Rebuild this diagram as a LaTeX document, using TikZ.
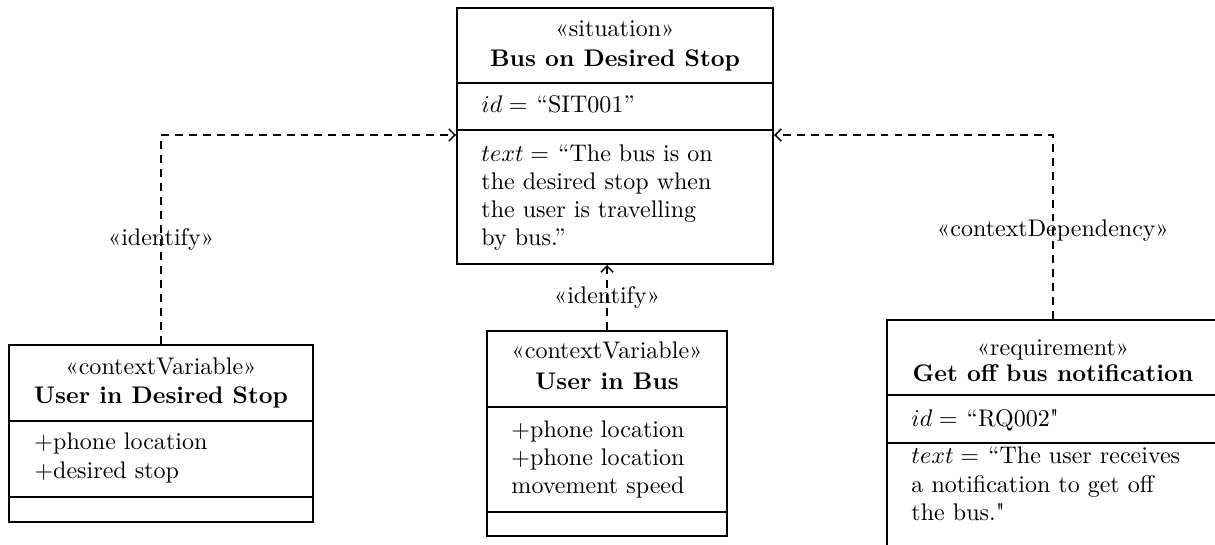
\documentclass[tikz,border=0pt]{standalone}
\usepackage{fontspec}
\usetikzlibrary{fit,arrows.meta}

\begin{document}
\begin{tikzpicture}[
  x=0.416pt, y=-0.416pt,
  umlbox/.style={draw, line width=0.8pt, inner sep=0pt},
  divider/.style={line width=0.7pt},
  attr/.style={inner sep=0pt, anchor=base west},
  title/.style={inner sep=0pt, anchor=base},
  deplabel/.style={inner sep=0pt, anchor=base},
  dep/.style={line width=0.6pt, dash pattern=on 3.3pt off 2.5pt,
              -{Straight Barb[length=2.6pt,width=5pt]}},
]
\useasboundingbox (0,0) rectangle (1215,544);

% ---- situation ----
\node[umlbox, fit={(457,8) (773,264)}] (sit) {};
\draw[divider] (sit.west |- 0,83) -- (sit.east |- 0,83);
\draw[divider] (sit.west |- 0,130) -- (sit.east |- 0,130);
\node[title] (sitst) at (615,36) {«situation»};
\node[title] (sitnm) at (615,66) {\bfseries Bus on Desired Stop};
\node[attr] (sitid) at (481,112) {$id = {}$\kern1pt“SIT001”};
\node[attr] (sitt1) at (481,161) {$text = {}$\kern1pt“The bus is on};
\node[attr] (sitt2) at (481,189) {the desired stop when};
\node[attr] (sitt3) at (481,217) {the user is travelling};
\node[attr] (sitt4) at (481,245) {by bus.”};

% ---- context variable: user in desired stop ----
\node[umlbox, fit={(9,345) (313,522)}] (uds) {};
\draw[divider] (uds.west |- 0,421) -- (uds.east |- 0,421);
\draw[divider] (uds.west |- 0,497) -- (uds.east |- 0,497);
\node[title] (udsst) at (161,374) {«contextVariable»};
\node[title] (udsnm) at (161,403) {\bfseries User in Desired Stop};
\node[attr] (udsa1) at (34,449) {$+$phone location};
\node[attr] (udsa2) at (34,478) {$+$desired stop};

% ---- context variable: user in bus ----
\node[umlbox, fit={(487,331) (727,536)}] (uib) {};
\draw[divider] (uib.west |- 0,407) -- (uib.east |- 0,407);
\draw[divider] (uib.west |- 0,512) -- (uib.east |- 0,512);
\node[title] (uibst) at (607,358) {«contextVariable»};
\node[title] (uibnm) at (607,389) {\bfseries User in Bus};
\node[attr] (uiba1) at (511,437) {$+$phone location};
\node[attr] (uiba2) at (511,465) {$+$phone location};
\node[attr] (uiba3) at (511,493) {movement speed};

% ---- requirement ----
\node[umlbox, fit={(887,320) (1219,560)}] (req) {};
\draw[divider] (req.west |- 0,395) -- (req.east |- 0,395);
\draw[divider] (req.west |- 0,443) -- (req.east |- 0,443);
\node[title] (reqst) at (1053,355) {«requirement»};
\node[title] (reqnm) at (1053,381) {\bfseries Get off bus notification};
\node[attr] (reqid) at (911,426) {$id = {}$\kern1pt“RQ002\textquotedbl};
\node[attr] (reqt1) at (911,463) {$text = {}$\kern1pt“The user receives};
\node[attr] (reqt2) at (911,492) {a notification to get off};
\node[attr] (reqt3) at (911,520) {the bus.\textquotedbl};

% ---- dependencies ----
\draw[dep] (uds.north) |- (sit.west |- 0,135);
\draw[dep] (req.north) |- (sit.east |- 0,135);
\draw[dep] (uib.north) -- (uib.north |- sit.south);

\node[deplabel] (l1) at (161,245) {«identify»};
\node[deplabel] (l2) at (607,303) {«identify»};
\node[deplabel] (l3) at (1053,236) {«contextDependency»};
\end{tikzpicture}
\end{document}
